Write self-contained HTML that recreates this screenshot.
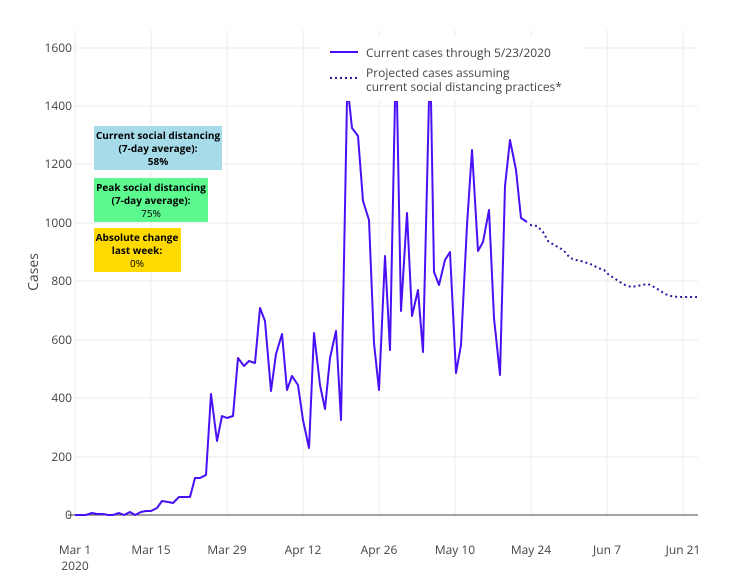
<!DOCTYPE html>
<html><head><meta charset="utf-8"><style>
body{margin:0;background:#fff;}
svg{display:block;font-family:"Open Sans","Liberation Sans",sans-serif;}
</style></head><body>
<svg width="734" height="588" viewBox="0 0 734 588">
<g stroke="#ebebeb" stroke-width="1">
<line x1="75" y1="457" x2="698" y2="457"/><line x1="75" y1="398" x2="698" y2="398"/>
<line x1="75" y1="340" x2="698" y2="340"/><line x1="75" y1="281" x2="698" y2="281"/>
<line x1="75" y1="223" x2="698" y2="223"/><line x1="75" y1="164" x2="698" y2="164"/>
<line x1="75" y1="106" x2="698" y2="106"/><line x1="75" y1="48" x2="698" y2="48"/>
<line x1="75" y1="30" x2="75" y2="515"/><line x1="151" y1="30" x2="151" y2="515"/>
<line x1="227" y1="30" x2="227" y2="515"/><line x1="303" y1="30" x2="303" y2="515"/>
<line x1="379" y1="30" x2="379" y2="515"/><line x1="455" y1="30" x2="455" y2="515"/>
<line x1="531" y1="30" x2="531" y2="515"/><line x1="607" y1="30" x2="607" y2="515"/>
<line x1="683" y1="30" x2="683" y2="515"/>
</g>
<line x1="68" y1="515" x2="698" y2="515" stroke="#444" stroke-width="1"/>
<g font-size="12" fill="#444" text-anchor="end">
<text x="72" y="519">0</text><text x="72" y="461">200</text><text x="72" y="402">400</text>
<text x="72" y="344">600</text><text x="72" y="285">800</text><text x="72" y="227">1000</text>
<text x="72" y="168">1200</text><text x="72" y="110">1400</text><text x="72" y="52">1600</text>
</g>
<g font-size="12" fill="#444" text-anchor="middle">
<text x="75" y="554">Mar 1</text><text x="75" y="570">2020</text>
<text x="151" y="554">Mar 15</text><text x="227" y="554">Mar 29</text><text x="303" y="554">Apr 12</text>
<text x="379" y="554">Apr 26</text><text x="455" y="554">May 10</text><text x="531" y="554">May 24</text>
<text x="607" y="554">Jun 7</text><text x="683" y="554">Jun 21</text>
</g>
<text x="38" y="272" font-size="14" fill="#444" text-anchor="middle" transform="rotate(-90 38 272)">Cases</text>
<polyline fill="none" stroke="#4a10f5" stroke-width="2" stroke-linejoin="round" points="75,515 80,515 86,515 92,513 97,514 103,514 108,515 113,515 119,513 124,515 130,512 135,515 141,512 146,511 151,511 157,508 162,501 168,502 173,503 179,497 184,497 190,497 195,478 200,478 206,475 211,394 217,441 222,416 227,418 233,416 238,358 244,366 249,361 255,363 260,308 265,321 271,391 276,354 282,334 287,390 292,376 298,385 303,420 309,448 314,333 320,385 325,409 330,358 336,331 341,420 347,100 349,100 352,128 358,136 363,201 369,220 374,343 379,390 385,256 390,350 395,100 397,100 401,311 407,213 412,316 418,290 423,352 429,100 431,100 434,272 439,285 445,260 450,252 456,373 461,345 467,225 472,150 478,251 483,242 489,210 494,318 500,375 505,186 510,140 516,170 521,218 527,222"/>
<polyline fill="none" stroke="#2a1aa0" stroke-width="2" stroke-dasharray="2,3" points="530,225 537,226 543,232 548,241 554,245 560,248 565,252 570,258 576,260 581,261 587,263 593,265 598,268 604,270 609,275 614,278 620,282 625,285 631,287 637,286 642,285 648,284 654,287 659,290 665,294 671,296 678,297 697,297"/>
<rect x="320" y="36" width="262" height="65" fill="#fff"/>
<line x1="330" y1="52" x2="358" y2="52" stroke="#4a10f5" stroke-width="2"/>
<line x1="330" y1="78" x2="358" y2="78" stroke="#2a1aa0" stroke-width="2" stroke-dasharray="2,3"/>
<g font-size="12" fill="#444">
<text x="366" y="57">Current cases through 5/23/2020</text>
<text x="366" y="77">Projected cases assuming</text>
<text x="366" y="91">current social distancing practices*</text>
</g>
<rect x="94" y="126" width="128" height="44" fill="#a6dce9"/>
<rect x="94" y="178" width="114" height="44" fill="#5cf98f"/>
<rect x="94" y="228" width="87" height="44" fill="#ffda00"/>
<g font-size="10" fill="#000" text-anchor="middle" font-weight="bold">
<text x="158" y="139">Current social distancing</text>
<text x="158" y="152">(7-day average):</text>
<text x="158" y="165">58%</text>
<text x="151" y="191">Peak social distancing</text>
<text x="151" y="204">(7-day average):</text>
<text x="151" y="217" font-weight="normal">75%</text>
<text x="137" y="241">Absolute change</text>
<text x="137" y="254">last week:</text>
<text x="137" y="267" font-weight="normal">0%</text>
</g>
</svg>
</body></html>
